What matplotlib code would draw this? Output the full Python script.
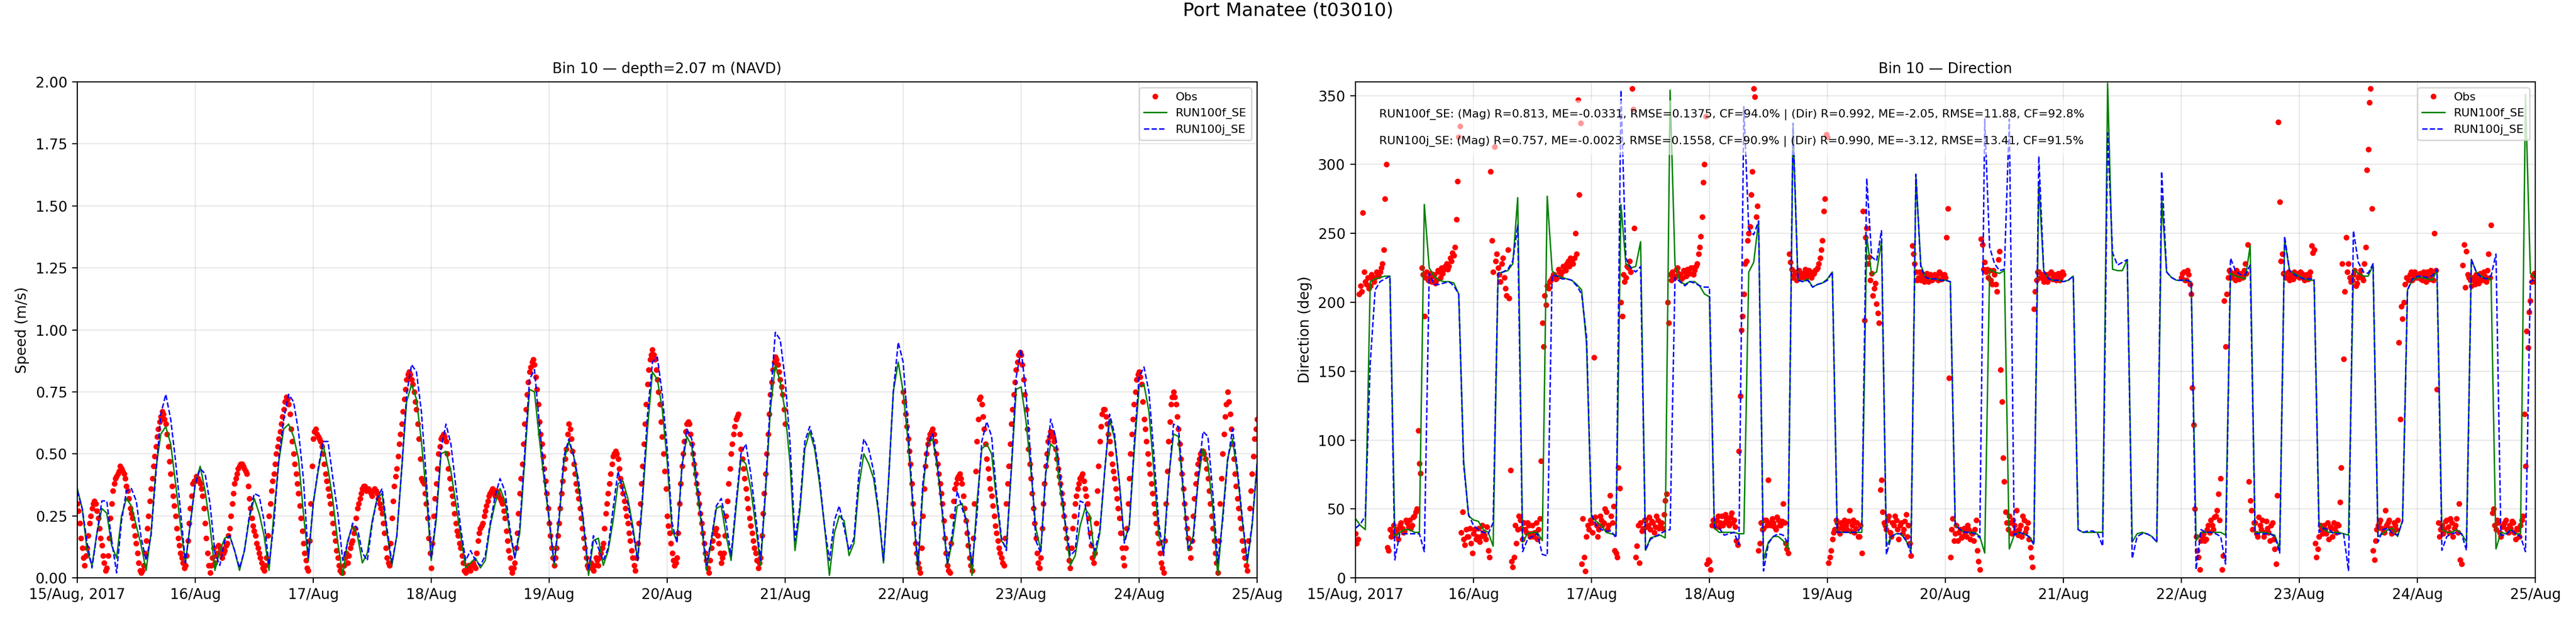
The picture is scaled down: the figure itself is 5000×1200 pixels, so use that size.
import matplotlib
matplotlib.use("Agg")
import matplotlib.pyplot as plt
import matplotlib.dates as mdates
from matplotlib.ticker import FuncFormatter
import numpy as np
import pandas as pd

# ---- model output, hourly from 2017-08-15 00:00 to 2017-08-25 00:00 (one row per day)
spd_f = [
    .36, .28, .11, .05, .18, .28, .26, .13, .08, .25, .32, .29, .21, .13, .03, .18, .44, .58, .61, .54, .38, .21, .06, .22,
    .38, .45, .35, .21, .03, .11, .16, .17, .11, .03, .11, .24, .32, .26, .17, .03, .26, .47, .60, .62, .57, .48, .26, .07,
    .30, .43, .54, .44, .31, .14, .01, .15, .21, .17, .06, .10, .23, .32, .34, .18, .05, .17, .44, .71, .78, .72, .55, .34,
    .07, .23, .50, .51, .43, .30, .17, .04, .06, .08, .04, .07, .21, .30, .36, .31, .18, .08, .18, .47, .76, .75, .56, .39,
    .23, .05, .23, .47, .55, .49, .36, .21, .01, .15, .16, .05, .11, .23, .38, .39, .32, .21, .07, .32, .60, .83, .80, .68,
    .47, .19, .15, .45, .57, .53, .36, .21, .03, .15, .28, .29, .17, .07, .28, .48, .46, .36, .21, .05, .34, .68, .86, .79,
    .67, .46, .11, .27, .52, .59, .52, .38, .21, .01, .18, .25, .23, .09, .14, .37, .50, .46, .40, .26, .06, .38, .75, .87,
    .75, .55, .28, .03, .35, .54, .56, .44, .25, .05, .15, .29, .30, .22, .01, .30, .52, .54, .50, .31, .15, .12, .43, .76,
    .77, .63, .43, .20, .11, .42, .54, .52, .35, .21, .05, .09, .21, .28, .25, .08, .18, .43, .64, .56, .38, .15, .21, .51,
    .77, .78, .67, .43, .17, .11, .40, .58, .57, .34, .11, .17, .39, .52, .46, .28, .01, .25, .48, .56, .42, .23, .06, .21, .46,
]
spd_j = [
    .35, .28, .14, .04, .18, .31, .31, .15, .02, .23, .35, .36, .31, .16, .07, .17, .42, .66, .74, .64, .47, .27, .06, .22,
    .38, .44, .42, .30, .10, .05, .15, .17, .11, .04, .11, .25, .34, .33, .23, .05, .22, .48, .64, .74, .71, .59, .40, .08,
    .30, .44, .55, .55, .40, .26, .07, .14, .22, .20, .10, .07, .22, .32, .36, .20, .06, .17, .44, .74, .86, .83, .67, .40,
    .08, .25, .52, .62, .54, .37, .20, .07, .11, .07, .05, .09, .22, .33, .40, .35, .20, .08, .20, .50, .80, .84, .62, .42,
    .24, .06, .24, .49, .56, .49, .39, .22, .03, .17, .12, .07, .12, .28, .43, .35, .30, .19, .07, .34, .66, .87, .89, .74,
    .52, .22, .14, .45, .60, .56, .40, .23, .05, .16, .29, .32, .22, .09, .30, .50, .54, .42, .25, .07, .36, .72, .99, .96,
    .80, .54, .15, .29, .55, .61, .54, .40, .21, .07, .23, .29, .20, .11, .16, .42, .56, .52, .43, .27, .07, .38, .75, .95,
    .87, .60, .30, .05, .38, .54, .58, .46, .27, .06, .18, .35, .28, .22, .05, .25, .55, .63, .57, .34, .16, .11, .44, .81,
    .92, .74, .47, .15, .10, .42, .64, .57, .40, .22, .09, .11, .31, .30, .15, .11, .19, .43, .66, .58, .38, .14, .21, .54,
    .81, .85, .75, .50, .22, .09, .39, .62, .61, .36, .12, .15, .40, .59, .57, .34, .06, .23, .47, .60, .44, .24, .07, .22, .46,
]
dir_f = [
    43, 38, 35, 215, 217, 218, 219, 219, 30, 33, 35, 35, 33, 33, 271, 225, 219, 216, 215, 215, 214, 206, 85, 45,
    42, 41, 35, 33, 23, 221, 222, 223, 228, 276, 26, 32, 33, 33, 27, 277, 223, 219, 218, 217, 216, 213, 209, 170,
    44, 41, 38, 33, 32, 31, 271, 228, 225, 226, 244, 20, 29, 30, 31, 29, 354, 227, 215, 213, 215, 215, 212, 206,
    204, 36, 33, 33, 33, 33, 32, 32, 222, 229, 259, 13, 26, 30, 30, 27, 21, 327, 216, 215, 217, 211, 213, 214,
    217, 222, 33, 33, 33, 33, 33, 33, 248, 220, 222, 244, 23, 30, 32, 32, 27, 20, 292, 227, 218, 217, 217, 216,
    216, 215, 38, 35, 33, 33, 33, 30, 18, 224, 222, 221, 223, 21, 31, 33, 32, 30, 25, 287, 223, 217, 216, 216,
    215, 216, 219, 35, 33, 33, 33, 33, 33, 359, 224, 223, 223, 231, 26, 32, 33, 32, 30, 26, 275, 222, 218, 216,
    216, 216, 215, 27, 33, 33, 33, 33, 33, 31, 221, 219, 218, 217, 241, 33, 33, 33, 32, 31, 21, 246, 223, 221,
    219, 217, 216, 216, 40, 35, 33, 33, 33, 32, 31, 224, 221, 219, 219, 227, 30, 32, 35, 36, 30, 42, 209, 216,
    218, 218, 217, 216, 223, 35, 33, 33, 35, 32, 26, 231, 222, 219, 217, 217, 21, 33, 32, 35, 32, 32, 351, 221, 218,
]
dir_j = [
    36, 39, 45, 156, 209, 215, 217, 219, 13, 32, 32, 32, 32, 32, 19, 221, 213, 213, 214, 215, 212, 206, 82, 46,
    38, 35, 33, 32, 40, 221, 222, 224, 230, 256, 19, 28, 30, 32, 17, 16, 220, 219, 217, 217, 216, 212, 206, 175,
    46, 38, 35, 34, 34, 29, 354, 232, 225, 222, 226, 20, 28, 30, 32, 34, 35, 218, 215, 212, 215, 214, 212, 211,
    211, 37, 36, 31, 32, 33, 24, 342, 253, 249, 259, 5, 25, 30, 32, 31, 25, 330, 216, 215, 216, 211, 213, 214,
    216, 222, 33, 33, 33, 33, 33, 37, 290, 233, 230, 252, 17, 30, 32, 32, 27, 18, 293, 225, 218, 217, 217, 216,
    216, 215, 39, 35, 33, 33, 32, 29, 333, 240, 228, 223, 224, 333, 31, 33, 32, 30, 24, 306, 223, 217, 216, 216,
    215, 216, 219, 35, 33, 34, 34, 32, 23, 323, 236, 227, 229, 231, 14, 30, 32, 32, 30, 26, 295, 222, 218, 216,
    216, 216, 215, 6, 35, 33, 33, 32, 30, 10, 232, 223, 220, 220, 227, 32, 32, 32, 32, 30, 18, 248, 223, 220,
    218, 217, 217, 217, 33, 36, 35, 32, 32, 32, 5, 252, 229, 222, 221, 228, 26, 35, 36, 32, 31, 41, 209, 217,
    219, 219, 218, 219, 224, 20, 30, 32, 33, 32, 20, 231, 222, 218, 217, 219, 235, 31, 31, 35, 32, 30, 19, 215, 217,
]

# ---- ADCP observations: *_a on the hour and half hour, *_b at :15 and :45; no data on 21 Aug
obs_spd_aug15_a = [.30, .22, .12, .05, .12, .22, .28, .31, .27, .20, .13, .06, .04, .16, .30, .38,
                   .41, .43, .44, .42, .37, .32, .26, .21, .14, .06, .02, .05, .15, .25, .36, .45,
                   .53, .60, .65, .66, .62, .53, .42, .33, .25, .16, .10, .06, .05, .15, .28, .38]
obs_spd_aug15_b = [.27, .16, .08, .09, .17, .25, .30, .30, .24, .16, .09, .03, .09, .24, .35, .40,
                   .42, .45, .43, .40, .35, .28, .24, .17, .10, .03, .03, .10, .20, .31, .40, .49,
                   .57, .63, .67, .64, .58, .47, .37, .29, .20, .13, .08, .04, .09, .22, .33, .39]
obs_spd_aug16_a = [.39, .40, .38, .33, .22, .10, .02, .08, .06, .10, .12, .08, .11, .14, .20, .30,
                   .38, .42, .45, .46, .44, .42, .32, .24, .19, .14, .10, .06, .03, .08, .25, .35,
                   .42, .50, .56, .62, .68, .73, .70, .60, .50, .42, .34, .24, .14, .07, .03, .30]
obs_spd_aug16_b = [.41, .39, .36, .28, .16, .05, .05, .12, .09, .13, .10, .10, .13, .17, .25, .34,
                   .40, .44, .46, .45, .43, .37, .28, .21, .17, .12, .08, .04, .05, .17, .30, .39,
                   .46, .53, .59, .65, .71, .72, .66, .55, .46, .38, .29, .19, .10, .04, .15, .45]
obs_spd_aug17_a = [.56, .60, .57, .55, .50, .42, .36, .30, .22, .15, .08, .03, .02, .08, .06, .12,
                   .15, .20, .28, .32, .36, .37, .36, .35, .33, .36, .34, .30, .26, .18, .08, .05,
                   .24, .37, .44, .54, .62, .72, .80, .83, .80, .75, .68, .56, .40, .38, .30, .16]
obs_spd_aug17_b = [.59, .58, .56, .53, .46, .39, .33, .26, .18, .11, .05, .02, .05, .10, .09, .14,
                   .18, .24, .30, .34, .37, .35, .36, .34, .35, .35, .32, .28, .22, .12, .06, .14,
                   .31, .41, .49, .58, .67, .76, .82, .82, .78, .71, .62, .48, .39, .34, .24, .10]
obs_spd_aug18_a = [.04, .25, .38, .50, .56, .58, .55, .44, .36, .30, .22, .17, .12, .06, .02, .05,
                   .03, .06, .04, .15, .20, .22, .27, .31, .34, .36, .33, .34, .32, .30, .24, .15,
                   .08, .02, .06, .18, .34, .46, .62, .74, .83, .87, .86, .76, .63, .54, .44, .34]
obs_spd_aug18_b = [.14, .32, .44, .53, .57, .57, .50, .40, .33, .26, .19, .14, .09, .03, .03, .04,
                   .05, .05, .10, .18, .21, .25, .29, .33, .35, .34, .35, .33, .31, .27, .19, .11,
                   .04, .04, .12, .26, .40, .54, .68, .79, .85, .88, .81, .70, .58, .49, .39, .28]
obs_spd_aug19_a = [.22, .12, .05, .12, .22, .34, .44, .52, .62, .56, .46, .38, .32, .24, .16, .08,
                   .04, .06, .03, .08, .05, .10, .14, .26, .34, .42, .49, .51, .48, .40, .34, .28,
                   .22, .15, .08, .03, .14, .30, .45, .62, .78, .88, .92, .88, .80, .70, .57, .43]
obs_spd_aug19_b = [.17, .08, .08, .17, .28, .39, .48, .58, .60, .51, .42, .35, .28, .20, .12, .05,
                   .05, .04, .05, .07, .08, .12, .20, .30, .38, .46, .50, .50, .44, .37, .31, .25,
                   .18, .11, .05, .08, .22, .38, .54, .70, .84, .90, .90, .84, .75, .63, .50, .36]
obs_spd_aug20_a = [.25, .18, .10, .05, .08, .30, .45, .55, .62, .62, .54, .46, .38, .30, .22, .14,
                   .07, .02, .12, .18, .20, .14, .06, .10, .25, .38, .50, .58, .64, .66, .52, .44,
                   .36, .28, .21, .15, .10, .04, .08, .26, .42, .58, .74, .84, .89, .86, .80, .74]
obs_spd_aug20_b = [.21, .14, .07, .06, .18, .38, .50, .59, .63, .58, .50, .42, .34, .26, .18, .10,
                   .04, .07, .15, .19, .17, .10, .08, .17, .31, .44, .54, .61, .65, .58, .48, .40,
                   .32, .24, .18, .12, .07, .06, .17, .34, .50, .66, .79, .87, .88, .83, .77, .68]
obs_spd_aug21_a = [.62]
obs_spd_aug21_b = []
obs_spd_aug22_a = [.75, .66, .56, .46, .30, .14, .06, .02, .25, .45, .54, .58, .60, .55, .46, .38,
                   .30, .16, .05, .02, .25, .36, .40, .42, .38, .28, .18, .08, .03, .30, .55, .72,
                   .70, .60, .48, .40, .33, .25, .18, .12, .08, .05, .30, .45, .62, .74, .84, .90]
obs_spd_aug22_b = [.71, .61, .51, .38, .22, .10, .04, .12, .36, .50, .56, .59, .58, .50, .42, .34,
                   .23, .10, .03, .14, .31, .38, .41, .40, .33, .23, .13, .05, .16, .43, .64, .73,
                   .65, .54, .44, .36, .29, .21, .15, .10, .06, .16, .38, .54, .68, .79, .87, .91]
obs_spd_aug23_a = [.90, .80, .68, .52, .40, .28, .16, .06, .08, .30, .45, .55, .59, .57, .52, .44,
                   .38, .30, .20, .12, .04, .20, .30, .36, .40, .42, .36, .30, .18, .08, .10, .35,
                   .55, .66, .68, .62, .55, .46, .40, .32, .24, .12, .05, .20, .40, .58, .70, .80]
obs_spd_aug23_b = [.86, .74, .60, .46, .34, .22, .10, .04, .20, .38, .50, .57, .58, .55, .48, .41,
                   .34, .25, .16, .07, .12, .25, .33, .38, .41, .39, .33, .24, .13, .06, .22, .45,
                   .61, .68, .65, .58, .50, .43, .36, .28, .18, .08, .12, .30, .50, .64, .75, .82]
obs_spd_aug24_a = [.83, .78, .64, .55, .46, .38, .30, .22, .14, .06, .02, .30, .55, .70, .75, .70,
                   .60, .48, .36, .24, .16, .08, .25, .38, .46, .50, .51, .48, .40, .30, .20, .10,
                   .02, .30, .50, .65, .75, .66, .54, .42, .32, .24, .15, .08, .03, .28, .42, .56, .64]
obs_spd_aug24_b = [.81, .71, .60, .50, .42, .34, .26, .18, .10, .04, .15, .43, .63, .73, .73, .65,
                   .54, .42, .30, .20, .12, .15, .32, .42, .48, .51, .50, .44, .35, .25, .15, .06,
                   .15, .40, .58, .70, .71, .60, .48, .37, .28, .20, .11, .05, .15, .35, .49, .60]

obs_dir_aug15_a = [32, 28, 212, 265, 215, 218, 212, 217, 218, 220, 222, 228, 275, 22, 35, 33,
                   31, 35, 38, 36, 34, 40, 42, 38, 45, 50, 83, 225, 190, 222, 218, 215,
                   220, 216, 222, 225, 224, 228, 226, 230, 234, 260, 320, 33, 28, 35, 30, 25]
obs_dir_aug15_b = [25, 206, 208, 222, 213, 210, 220, 215, 222, 219, 225, 238, 300, 20, 30, 38,
                   33, 28, 40, 33, 42, 37, 36, 44, 48, 107, 76, 220, 218, 216, 221, 219,
                   214, 223, 218, 221, 226, 224, 232, 236, 240, 288, 328, 48, 24, 30, 36, 18]
obs_dir_aug16_a = [32, 28, 36, 30, 33, 28, 20, 295, 222, 230, 225, 215, 232, 210, 238, 78,
                   8, 38, 35, 42, 28, 35, 40, 30, 38, 33, 28, 43, 185, 205, 212, 215,
                   218, 220, 218, 222, 222, 225, 228, 226, 230, 232, 235, 278, 10, 15, 30, 35]
obs_dir_aug16_b = [35, 30, 26, 38, 31, 37, 15, 245, 313, 235, 220, 228, 218, 205, 203, 12,
                   15, 25, 45, 36, 40, 33, 38, 32, 30, 40, 35, 85, 168, 198, 210, 216,
                   220, 217, 224, 219, 226, 223, 230, 232, 228, 250, 347, 330, 43, 5, 38, 42]
obs_dir_aug17_a = [40, 160, 38, 35, 42, 40, 48, 38, 45, 52, 18, 80, 200, 220, 218, 225,
                   222, 340, 15, 38, 40, 36, 42, 38, 35, 40, 37, 42, 39, 36, 56, 200,
                   220, 222, 218, 225, 220, 218, 222, 224, 221, 225, 223, 228, 240, 262, 300, 10]
obs_dir_aug17_b = [33, 44, 30, 45, 38, 50, 35, 60, 40, 20, 15, 65, 190, 215, 226, 230,
                   355, 254, 23, 11, 34, 42, 37, 44, 41, 33, 45, 36, 40, 46, 61, 185,
                   216, 219, 224, 221, 217, 223, 219, 222, 225, 220, 226, 235, 248, 287, 335, 13]
obs_dir_aug18_a = [12, 38, 40, 42, 37, 45, 40, 43, 38, 47, 42, 27, 92, 180, 206, 230,
                   250, 278, 355, 262, 20, 40, 36, 42, 71, 38, 40, 35, 42, 38, 54, 25,
                   18, 229, 218, 222, 220, 218, 221, 224, 219, 222, 220, 223, 225, 232, 245, 275]
obs_dir_aug18_b = [6, 42, 37, 45, 40, 38, 46, 41, 44, 40, 37, 24, 132, 190, 228, 245,
                   255, 295, 349, 270, 25, 35, 42, 38, 40, 43, 37, 44, 38, 41, 40, 21,
                   235, 224, 220, 216, 223, 221, 218, 220, 223, 218, 221, 224, 228, 238, 266, 322]
obs_dir_aug19_a = [320, 15, 28, 35, 40, 32, 38, 42, 35, 49, 38, 33, 40, 30, 18, 187,
                   254, 233, 221, 210, 199, 185, 71, 40, 35, 45, 30, 38, 42, 28, 40, 35,
                   46, 38, 16, 235, 222, 218, 216, 220, 218, 215, 220, 217, 219, 216, 221, 218]
obs_dir_aug19_b = [11, 20, 33, 42, 36, 40, 35, 38, 41, 34, 42, 36, 30, 38, 266, 247,
                   228, 216, 205, 214, 192, 64, 48, 38, 42, 33, 40, 45, 35, 38, 32, 41,
                   30, 25, 241, 228, 216, 222, 219, 215, 221, 219, 216, 220, 218, 222, 217, 220]
obs_dir_aug20_a = [218, 268, 15, 43, 32, 27, 35, 30, 33, 38, 28, 32, 35, 20, 6, 242,
                   229, 224, 223, 213, 220, 208, 237, 128, 70, 40, 45, 32, 38, 49, 35, 30,
                   42, 36, 28, 15, 195, 216, 222, 218, 215, 220, 217, 222, 219, 216, 221, 218]
obs_dir_aug20_b = [247, 145, 35, 27, 38, 33, 29, 36, 30, 35, 33, 27, 42, 12, 246, 224,
                   222, 218, 216, 223, 213, 231, 151, 87, 48, 35, 40, 42, 34, 31, 38, 45,
                   33, 40, 22, 8, 208, 222, 218, 220, 218, 215, 221, 217, 220, 218, 216, 222]
obs_dir_aug21_a = [220]
obs_dir_aug21_b = []
obs_dir_aug22_a = [218, 222, 216, 220, 206, 111, 30, 15, 27, 32, 28, 38, 42, 35, 45, 61,
                   72, 16, 168, 218, 222, 220, 216, 219, 221, 218, 228, 242, 56, 35, 40, 30,
                   38, 42, 33, 36, 27, 40, 21, 60, 273, 235, 221, 218, 216, 220, 222, 219]
obs_dir_aug22_b = [221, 216, 223, 213, 138, 50, 20, 6, 30, 27, 35, 33, 38, 44, 49, 42,
                   6, 201, 206, 223, 218, 221, 223, 217, 219, 223, 221, 70, 49, 40, 32, 44,
                   35, 30, 41, 33, 38, 28, 10, 331, 230, 221, 218, 222, 219, 217, 220, 221]
obs_dir_aug23_a = [218, 221, 216, 220, 219, 241, 238, 15, 30, 35, 38, 32, 28, 36, 40, 33,
                   38, 80, 159, 247, 228, 215, 220, 212, 218, 223, 216, 240, 311, 355, 20, 27,
                   38, 42, 35, 49, 40, 36, 33, 38, 42, 115, 188, 213, 218, 220, 216, 222]
obs_dir_aug23_b = [222, 218, 219, 217, 222, 236, 25, 21, 38, 32, 35, 40, 37, 30, 36, 39,
                   55, 228, 208, 222, 218, 216, 223, 214, 220, 218, 228, 296, 345, 268, 13, 35,
                   40, 36, 33, 38, 42, 32, 40, 35, 171, 197, 200, 218, 216, 222, 219, 218]
obs_dir_aug24_a = [218, 221, 216, 219, 222, 217, 220, 250, 137, 30, 38, 35, 42, 33, 40, 36,
                   43, 54, 10, 242, 237, 218, 212, 216, 220, 214, 218, 222, 215, 235, 256, 50,
                   35, 40, 30, 38, 42, 33, 36, 40, 28, 35, 38, 45, 81, 167, 201, 219, 215]
obs_dir_aug24_b = [220, 217, 222, 215, 219, 223, 216, 223, 40, 35, 32, 41, 37, 43, 30, 38,
                   33, 13, 227, 211, 220, 216, 218, 213, 217, 221, 216, 219, 223, 218, 47, 38,
                   42, 33, 37, 40, 35, 38, 41, 33, 36, 30, 42, 119, 179, 193, 215, 221]

obs_days = ["2017-08-15", "2017-08-16", "2017-08-17", "2017-08-18", "2017-08-19",
            "2017-08-20", "2017-08-21", "2017-08-22", "2017-08-23", "2017-08-24"]
obs_spd_a = [obs_spd_aug15_a, obs_spd_aug16_a, obs_spd_aug17_a, obs_spd_aug18_a, obs_spd_aug19_a,
             obs_spd_aug20_a, obs_spd_aug21_a, obs_spd_aug22_a, obs_spd_aug23_a, obs_spd_aug24_a]
obs_spd_b = [obs_spd_aug15_b, obs_spd_aug16_b, obs_spd_aug17_b, obs_spd_aug18_b, obs_spd_aug19_b,
             obs_spd_aug20_b, obs_spd_aug21_b, obs_spd_aug22_b, obs_spd_aug23_b, obs_spd_aug24_b]
obs_dir_a = [obs_dir_aug15_a, obs_dir_aug16_a, obs_dir_aug17_a, obs_dir_aug18_a, obs_dir_aug19_a,
             obs_dir_aug20_a, obs_dir_aug21_a, obs_dir_aug22_a, obs_dir_aug23_a, obs_dir_aug24_a]
obs_dir_b = [obs_dir_aug15_b, obs_dir_aug16_b, obs_dir_aug17_b, obs_dir_aug18_b, obs_dir_aug19_b,
             obs_dir_aug20_b, obs_dir_aug21_b, obs_dir_aug22_b, obs_dir_aug23_b, obs_dir_aug24_b]

stats_f = "RUN100f_SE: (Mag) R=0.813, ME=-0.0331, RMSE=0.1375, CF=94.0% | (Dir) R=0.992, ME=-2.05, RMSE=11.88, CF=92.8%"
stats_j = "RUN100j_SE: (Mag) R=0.757, ME=-0.0023, RMSE=0.1558, CF=90.9% | (Dir) R=0.990, ME=-3.12, RMSE=13.41, CF=91.5%"

t_model = pd.date_range("2017-08-15 00:00", periods=len(spd_f), freq="h")

t_obs = []
obs_spd = []
obs_dir = []
for day, sa, sb, da, db in zip(obs_days, obs_spd_a, obs_spd_b, obs_dir_a, obs_dir_b):
    t0 = pd.Timestamp(day)
    t_obs.extend(pd.date_range(t0, periods=len(sa), freq="30min"))
    t_obs.extend(pd.date_range(t0 + pd.Timedelta("15min"), periods=len(sb), freq="30min"))
    obs_spd.extend(sa + sb)
    obs_dir.extend(da + db)


def day_label(x, pos):
    d = mdates.num2date(x)
    if d.day == 15:
        return d.strftime("%d/%b, %Y")
    return d.strftime("%d/%b")


fig = plt.figure(figsize=(25, 6), dpi=200)
ax1 = fig.add_axes([0.030, 0.065, 0.458, 0.8025])
ax2 = fig.add_axes([0.5262, 0.065, 0.458, 0.8025])

for ax, obs, mf, mj in [(ax1, obs_spd, spd_f, spd_j), (ax2, obs_dir, dir_f, dir_j)]:
    ax.plot(t_obs, obs, "o", color="red", ms=3.0, label="Obs")
    ax.plot(t_model, mf, "-", color="green", lw=1.0, label="RUN100f_SE")
    ax.plot(t_model, mj, "--", color="blue", lw=1.0, label="RUN100j_SE")
    ax.set_xlim(pd.Timestamp("2017-08-15"), pd.Timestamp("2017-08-25"))
    ax.xaxis.set_major_locator(mdates.DayLocator())
    ax.xaxis.set_major_formatter(FuncFormatter(day_label))
    ax.grid(True, alpha=0.3)
    ax.legend(loc="upper right", fontsize=8)

ax1.set_ylim(0, 2)
ax1.set_ylabel("Speed (m/s)")
ax1.set_title("Bin 10 \u2014 depth=2.07 m (NAVD)", fontsize=10)

ax2.set_ylim(0, 360)
ax2.set_ylabel("Direction (deg)")
ax2.set_title("Bin 10 \u2014 Direction", fontsize=10)
ax2.text(0.02, 0.945, stats_f + "\n\n" + stats_j, transform=ax2.transAxes,
         fontsize=8, va="top", ha="left", linespacing=1.3,
         bbox=dict(facecolor="white", edgecolor="none", alpha=0.6, pad=6))

fig.suptitle("Port Manatee (t03010)", fontsize=13, y=0.997)

fig.savefig("out.png", dpi=200)
